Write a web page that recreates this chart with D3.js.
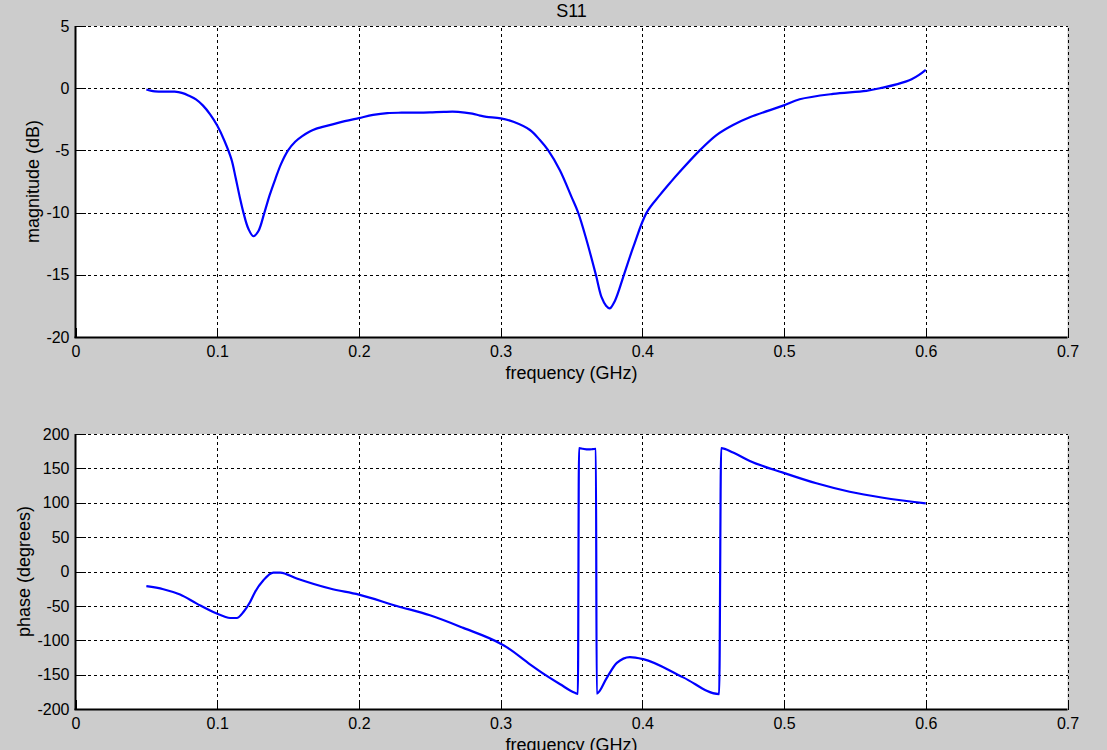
<!DOCTYPE html>
<html>
<head>
<meta charset="utf-8">
<script src="https://cdn.jsdelivr.net/npm/d3@7"></script>
<style>
  html, body { margin: 0; padding: 0; background: #cccccc; }
  svg { display: block; }
  text { font-family: "Liberation Sans", Arial, sans-serif; fill: #000; }
</style>
</head>
<body>
<svg id="chart" width="1107" height="750"></svg>
<script>
// ---- data ----
const chartTitle = "S11";
const xLabel = "frequency (GHz)";
const magLabel = "magnitude (dB)";
const phaseLabel = "phase (degrees)";

const xTicks = [0, 0.1, 0.2, 0.3, 0.4, 0.5, 0.6, 0.7];
const xTickLabels = ["0", "0.1", "0.2", "0.3", "0.4", "0.5", "0.6", "0.7"];
const magTicks = [-20, -15, -10, -5, 0, 5];
const magTickLabels = ["-20", "-15", "-10", "-5", "0", "5"];
const phaseTicks = [-200, -150, -100, -50, 0, 50, 100, 150, 200];
const phaseTickLabels = ["-200", "-150", "-100", "-50", "0", "50", "100", "150", "200"];

const magFreq = [0.05, 0.053, 0.056, 0.06, 0.065, 0.07, 0.075, 0.08, 0.085, 0.09, 0.095, 0.1, 0.105, 0.11, 0.113, 0.116, 0.1185, 0.122, 0.1255, 0.129, 0.1333, 0.137, 0.141, 0.145, 0.15, 0.155, 0.16, 0.165, 0.17, 0.18, 0.19, 0.2, 0.21, 0.22, 0.23, 0.24, 0.25, 0.26, 0.27, 0.28, 0.2854, 0.29, 0.3, 0.309, 0.3207, 0.3277, 0.3336, 0.3418, 0.35, 0.3547, 0.3606, 0.3672, 0.3712, 0.3745, 0.377, 0.3806, 0.387, 0.3935, 0.403, 0.4123, 0.42, 0.4264, 0.4405, 0.4523, 0.464, 0.4758, 0.4993, 0.511, 0.5345, 0.558, 0.5698, 0.58, 0.5863, 0.59, 0.595, 0.6];
const magDb = [-0.10, -0.2, -0.26, -0.27, -0.27, -0.28, -0.38, -0.6, -0.9, -1.4, -2.1, -3.0, -4.2, -5.7, -7.2, -8.8, -10.0, -11.3, -11.9, -11.5, -10.0, -8.6, -7.3, -6.1, -5.0, -4.3, -3.85, -3.5, -3.25, -2.95, -2.65, -2.4, -2.15, -2.0, -1.97, -1.97, -1.95, -1.9, -1.9, -2.05, -2.2, -2.3, -2.42, -2.7, -3.36, -4.17, -5.0, -6.6, -8.74, -10.0, -12.2, -15.0, -16.8, -17.5, -17.7, -17.1, -15.0, -12.8, -10.0, -8.6, -7.55, -6.72, -5.0, -3.77, -2.96, -2.34, -1.4, -0.89, -0.46, -0.22, 0.05, 0.33, 0.55, 0.72, 1.05, 1.48];

const phaseFreq = [0.05, 0.062, 0.0738, 0.0856, 0.0997, 0.105, 0.1091, 0.1138, 0.1185, 0.1232, 0.1267, 0.1326, 0.1396, 0.1444, 0.1561, 0.1796, 0.2, 0.2267, 0.2501, 0.2736, 0.3, 0.3042, 0.3207, 0.3312, 0.342, 0.3524, 0.3545, 0.3553, 0.358, 0.362, 0.365, 0.3672, 0.3678, 0.3748, 0.382, 0.3912, 0.4006, 0.4288, 0.4542, 0.4556, 0.464, 0.4758, 0.4993, 0.5228, 0.5463, 0.5698, 0.6];
const phaseDeg = [-21.4, -25.8, -33.6, -46.7, -61.2, -65.5, -67.6, -67.6, -58.9, -44.3, -29.7, -12.7, -1.5, -1.5, -10.2, -24.8, -33.6, -50.1, -63.7, -82, -105, -110, -135, -150, -164, -176.5, -178, 179.5, 178.5, 177.5, 178, 178.5, -177.5, -155, -133, -124.5, -127.5, -154, -178.5, 179.5, 173, 160.8, 143.8, 128.3, 116, 107.3, 99];

// ---- layout ----
const svg = d3.select("#chart");
const left = 75.5, right = 1067.5;

const x = d3.scaleLinear().domain([0, 0.7]).range([left, right]);
const yMag = d3.scaleLinear().domain([-20, 5]).range([337, 26]);
const yPhase = d3.scaleLinear().domain([-200, 200]).range([709, 434]);

function panel(yScale, yTicks, yTickLabels, freq, vals, yLabelText, yLabelX, curve) {
  const [y0, y1] = yScale.range();
  const g = svg.append("g");
  g.append("rect")
    .attr("x", left).attr("y", y1)
    .attr("width", right - left).attr("height", y0 - y1)
    .attr("fill", "#ffffff");

  // dashed grid
  const grid = g.append("g").attr("shape-rendering", "crispEdges");
  grid.selectAll("line.vx").data(xTicks.slice(1)).join("line")
    .attr("x1", d => Math.round(x(d)) + 0.5).attr("x2", d => Math.round(x(d)) + 0.5)
    .attr("y1", y0).attr("y2", y1)
    .attr("stroke", "#000").attr("stroke-width", 1).attr("stroke-dasharray", "3,3");
  grid.selectAll("line.hy").data(yTicks.slice(1)).join("line")
    .attr("y1", d => Math.round(yScale(d)) + 0.5).attr("y2", d => Math.round(yScale(d)) + 0.5)
    .attr("x1", left).attr("x2", right)
    .attr("stroke", "#000").attr("stroke-width", 1).attr("stroke-dasharray", "3,3");

  // axes
  const xAxis = d3.axisBottom(x).tickValues(xTicks)
    .tickFormat((d, i) => xTickLabels[i]).tickSizeInner(-10).tickSizeOuter(0).tickPadding(8);
  const ax = g.append("g").attr("transform", `translate(0,${Math.round(y0) + 0.5})`).call(xAxis);
  ax.select(".domain").attr("stroke", "#000").attr("stroke-width", 2).attr("d", `M${left - 1},0H${right}`);
  ax.selectAll(".tick line").attr("stroke", "#000").attr("stroke-width", 1);
  ax.selectAll(".tick text").attr("font-size", 16).attr("font-family", "Liberation Sans, Arial, sans-serif").attr("fill", "#000");

  const yAxis = d3.axisLeft(yScale).tickValues(yTicks)
    .tickFormat((d, i) => yTickLabels[i]).tickSizeInner(-10).tickSizeOuter(0).tickPadding(6);
  const ay = g.append("g").attr("transform", `translate(${left},0)`).call(yAxis);
  ay.select(".domain").attr("stroke", "#000").attr("stroke-width", 2).attr("d", `M0,${y0 + 1}V${y1}`);
  ay.selectAll(".tick line").attr("stroke", "#000").attr("stroke-width", 1);
  ay.selectAll(".tick text").attr("font-size", 16).attr("font-family", "Liberation Sans, Arial, sans-serif").attr("fill", "#000");
  svg.selectAll(".tick line").attr("shape-rendering", "crispEdges");

  // data line
  const pts = freq.map((f, i) => [f, vals[i]]);
  const line = d3.line().x(d => x(d[0])).y(d => yScale(d[1])).curve(curve);
  g.append("path").datum(pts)
    .attr("d", line).attr("fill", "none")
    .attr("stroke", "#0000ff").attr("stroke-width", 2.2)
    .attr("stroke-linejoin", "round");

  // labels
  g.append("text")
    .attr("x", (left + right) / 2).attr("y", y0 + 42)
    .attr("text-anchor", "middle").attr("font-size", 18)
    .text(xLabel);
  g.append("text")
    .attr("transform", `translate(${yLabelX},${(y0 + y1) / 2}) rotate(-90)`)
    .attr("text-anchor", "middle").attr("font-size", 18)
    .text(yLabelText);
}

panel(yMag, magTicks, magTickLabels, magFreq, magDb, magLabel, 39, d3.curveCatmullRom.alpha(0.5));
panel(yPhase, phaseTicks, phaseTickLabels, phaseFreq, phaseDeg, phaseLabel, 30, d3.curveMonotoneX);

svg.append("text")
  .attr("x", (left + right) / 2).attr("y", 17)
  .attr("text-anchor", "middle").attr("font-size", 18)
  .text(chartTitle);
</script>
</body>
</html>
